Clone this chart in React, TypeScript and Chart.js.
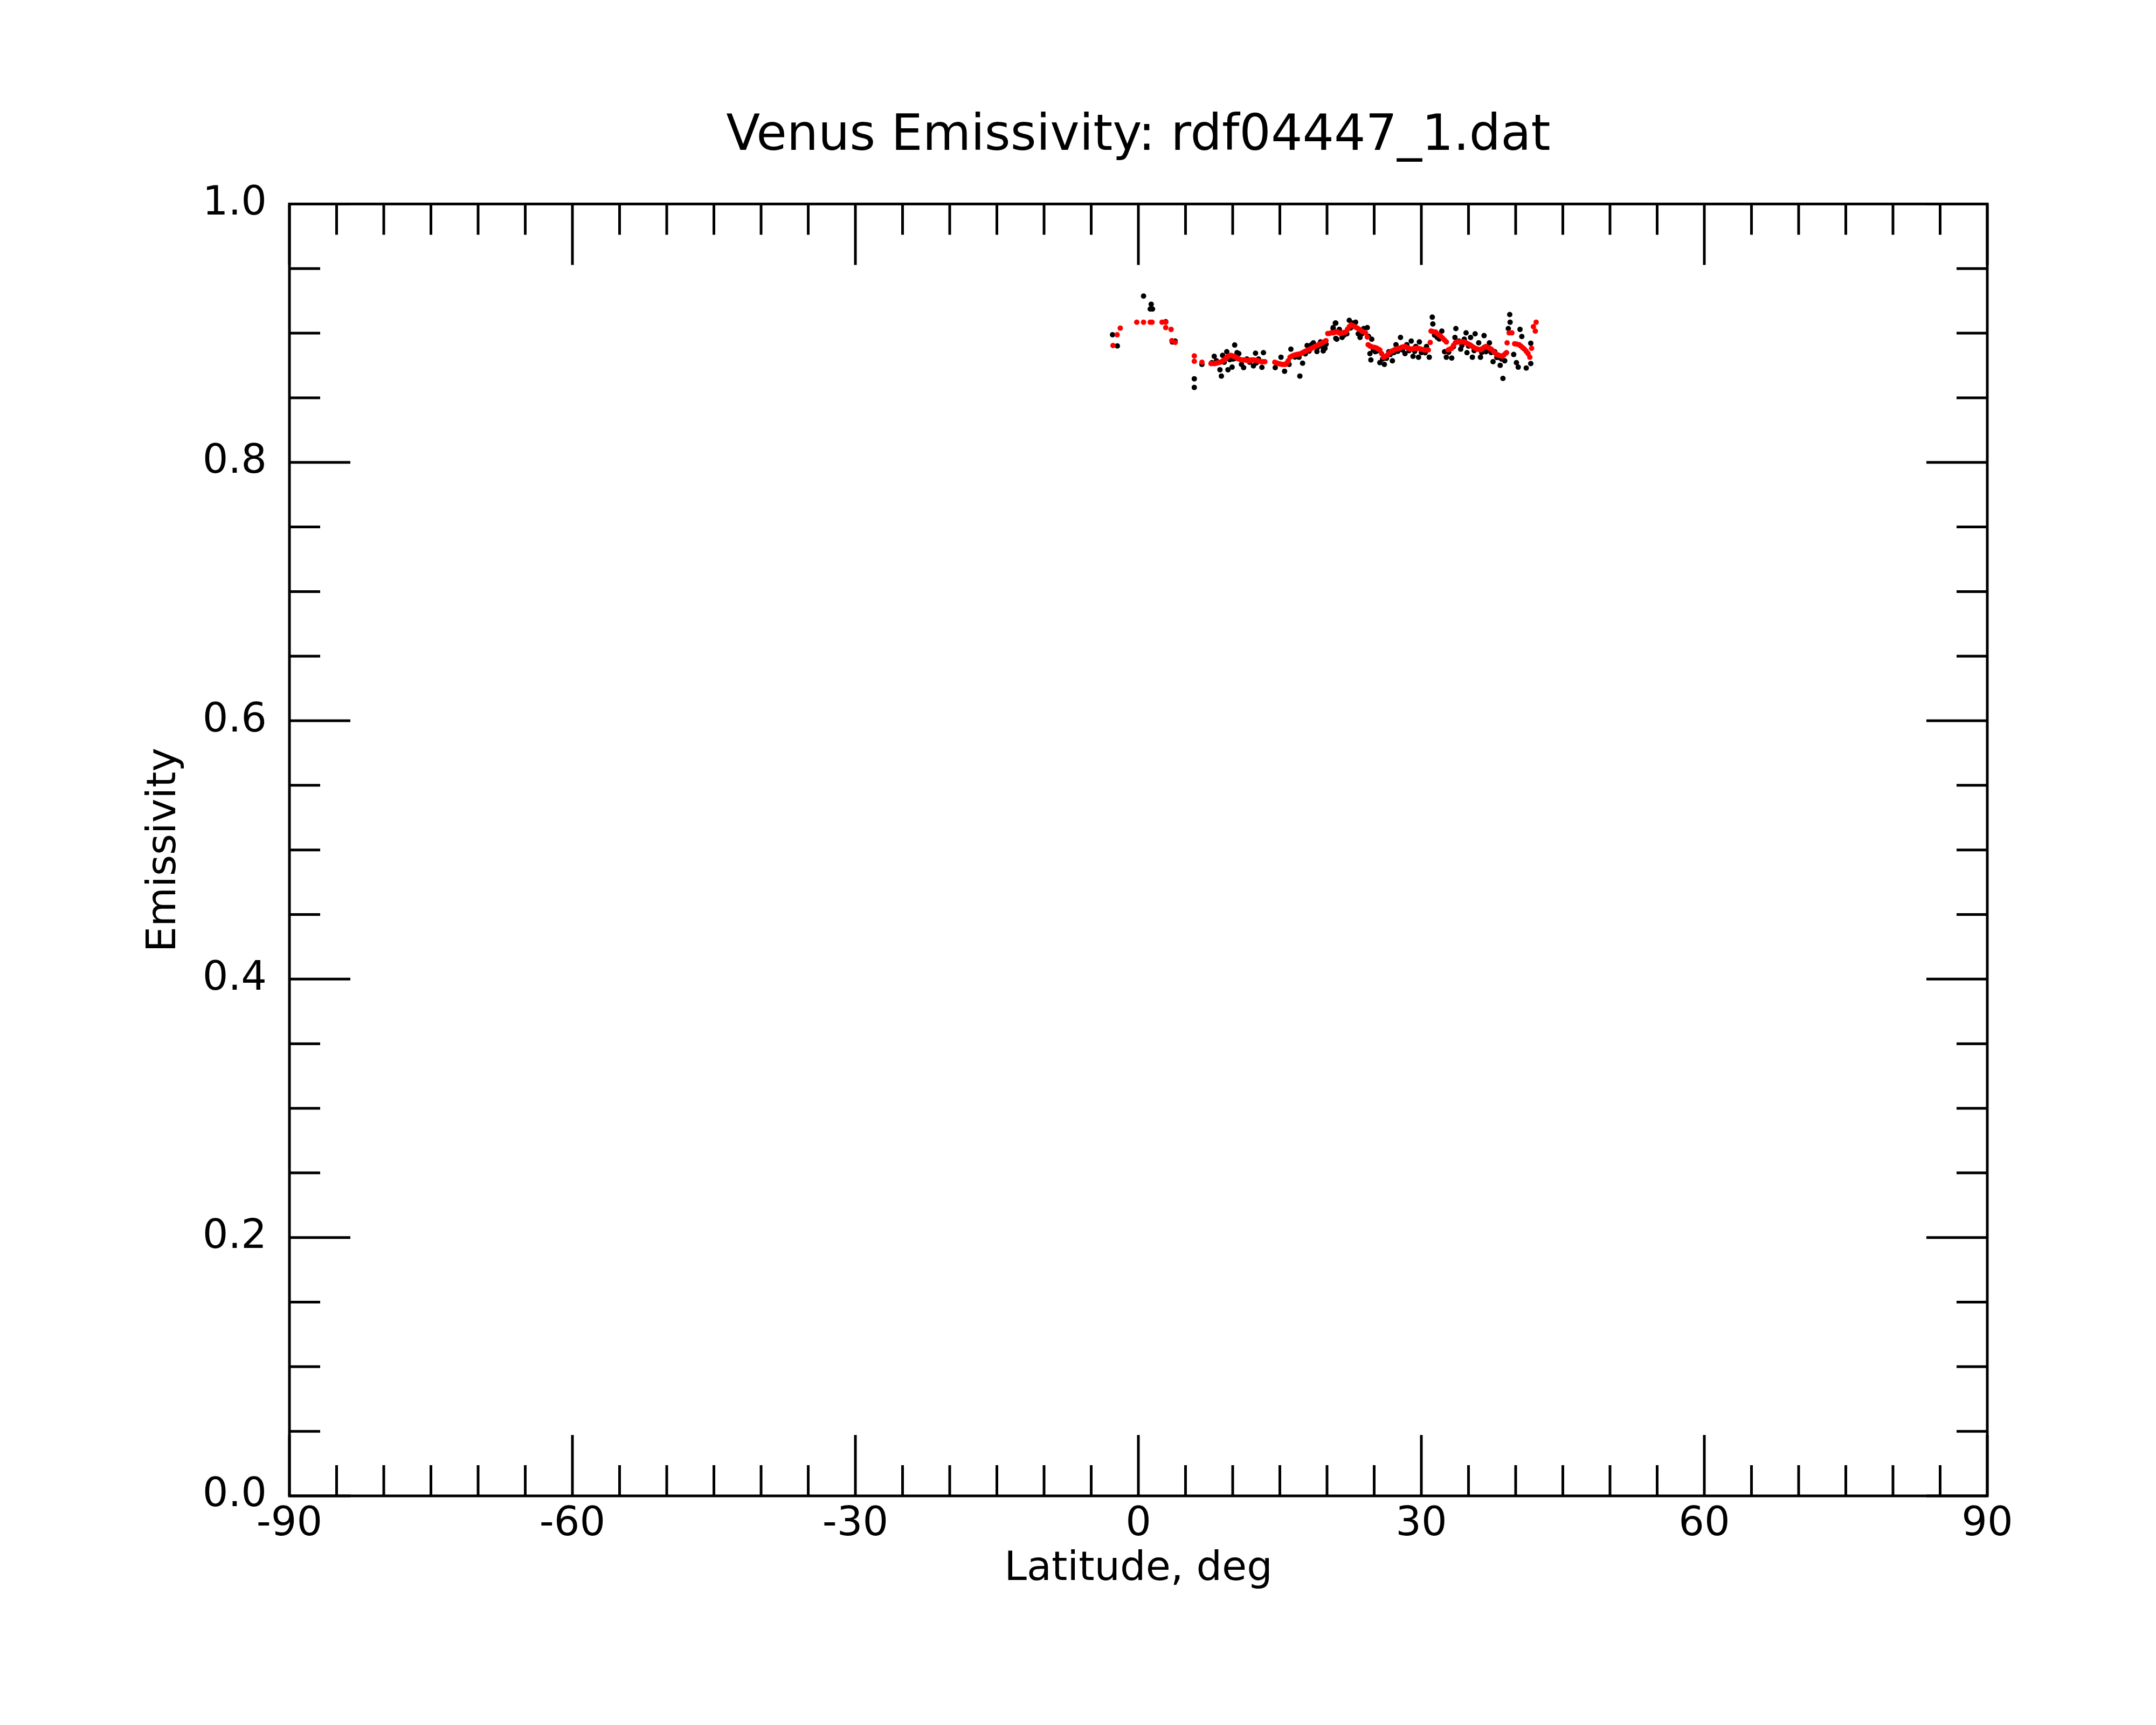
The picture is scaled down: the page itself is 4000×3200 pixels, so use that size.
import React, { useEffect, useRef } from "react";
import { Chart, registerables } from "chart.js";

Chart.register(...registerables);

const TITLE = "Venus Emissivity: rdf04447_1.dat";
const X_LABEL = "Latitude, deg";
const Y_LABEL = "Emissivity";
const FONT = "'DejaVu Sans', sans-serif";

// raw measurements (black)
const rawLat = [
  -2.74, -2.23, 0.55, 1.36, 1.26, 1.5, 2.9, 3.6, 3.9, 5.93, 5.93, 6.74, 8.04, 7.79, 8.27, 8.65, 8.8,
  8.93, 9.37, 9.5, 9.94, 10.04, 10.21, 10.46, 10.65, 10.93, 11.16, 11.5, 12.2, 12.42, 12.74, 13.1,
  13.26, 14.51, 15.12, 15.5, 15.98, 16.17, 17.03, 17.12, 17.41, 17.89, 18.36, 18.55, 18.93, 19.31,
  19.5, 19.6, 19.79, 20.65, 20.65, 20.93, 20.93, 20.88, 21.03, 21.31, 21.6, 22.36, 22.74, 23.03,
  23.31, 23.5, 23.89, 24.27, 24.55, 24.65, 24.74, 25.12, 25.6, 25.89, 26.08, 26.55, 26.93, 27.31,
  27.79, 28.27, 28.46, 28.93, 29.12, 29.41, 29.7, 29.79, 30.17, 30.55, 30.84, 31.16, 31.22, 31.69,
  32.17, 32.46, 32.65, 33.22, 33.56, 33.66, 33.98, 34.17, 34.55, 34.74, 34.84, 35.22, 35.41, 35.7,
  36.08, 36.27, 36.65, 36.84, 37.22, 37.6, 37.79, 38.17, 38.36, 38.65, 38.84, 39.22, 39.37, 39.41,
  39.79, 40.08, 40.27, 40.46, 40.65, 41.12, 41.6, 41.6,
  9.1, 9.7, 10.3, 11.8, 12.5, 16.6, 17.7, 18.1, 19.0, 19.9, 21.8, 22.1, 22.5, 23.7, 24.4, 24.9, 25.3,
  26.3, 26.7, 27.1, 27.5, 28.0, 28.7, 29.3, 30.0, 30.4, 31.4, 31.9, 32.9, 33.4, 34.3, 35.0, 35.6,
  36.4, 37.0, 37.4, 38.0, 38.5,
];
const rawEmis = [
  0.8988, 0.8901, 0.9287, 0.9224, 0.9187, 0.9187, 0.9089, 0.8932, 0.8939, 0.8647, 0.858, 0.8758,
  0.8821, 0.8772, 0.8786, 0.8717, 0.8668, 0.8828, 0.8856, 0.8717, 0.8737, 0.88, 0.8908, 0.8849,
  0.8842, 0.8758, 0.8733, 0.88, 0.8747, 0.8845, 0.88, 0.8735, 0.8849, 0.8733, 0.8814, 0.8705,
  0.8758, 0.8876, 0.8814, 0.8668, 0.8768, 0.8904, 0.8911, 0.8925, 0.8858, 0.8932, 0.8897, 0.8863,
  0.8883, 0.9043, 0.9036, 0.9078, 0.896, 0.9078, 0.8953, 0.9029, 0.8967, 0.9099, 0.9078, 0.9085,
  0.8995, 0.8967, 0.9036, 0.9043, 0.8842, 0.8793, 0.8953, 0.8856, 0.8772, 0.88, 0.8758, 0.8856,
  0.8786, 0.8911, 0.8967, 0.8842, 0.8911, 0.8939, 0.8821, 0.8897, 0.8814, 0.8932, 0.8856, 0.8897,
  0.8814, 0.9124, 0.9071, 0.8967, 0.9016, 0.8856, 0.8814, 0.8807, 0.8967, 0.9036, 0.8939, 0.8876,
  0.8953, 0.9002, 0.8849, 0.8967, 0.8814, 0.8995, 0.8925, 0.8814, 0.8981, 0.8856, 0.8925, 0.8779,
  0.8856, 0.8814, 0.8751, 0.865, 0.8786, 0.9036, 0.9144, 0.9085, 0.8835, 0.8772, 0.8737, 0.9029,
  0.8974, 0.873, 0.8922, 0.8765,
  0.8775, 0.8795, 0.8805, 0.8775, 0.8770, 0.8815, 0.8840, 0.8862, 0.8890, 0.8915, 0.8985, 0.8995,
  0.9040, 0.8995, 0.8975, 0.8870, 0.8862, 0.8805, 0.8835, 0.8850, 0.8860, 0.8870, 0.8865, 0.8860,
  0.8850, 0.8848, 0.8985, 0.8955, 0.8852, 0.8895, 0.8905, 0.8900, 0.8865, 0.8850, 0.8868, 0.8850,
  0.8812, 0.8800,
];

// smoothed values (red)
const smoothLat = [
  -2.69, -2.25, -1.92, -0.17, 0.55, 1.26, 1.45, 2.51, 2.9, 2.9, 3.47, 3.55, 3.9, 5.93, 5.93, 6.74,
  7.7, 7.9, 8.08, 8.27, 8.46, 8.65, 8.84, 9.03, 9.22, 9.36, 9.5, 9.65, 9.79, 9.94, 10.08, 10.22,
  10.36, 10.5, 10.65, 10.79, 10.93, 11.12, 11.31, 11.5, 11.7, 11.84, 11.98, 12.12, 12.27, 12.46,
  12.65, 12.84, 13.03, 13.22, 13.41, 14.46, 14.65, 14.84, 15.03, 15.22, 15.41, 15.6, 15.75, 15.89,
  16.08, 16.27, 16.46, 16.65, 16.84, 17.03, 17.22, 17.41, 17.6, 17.79, 17.98, 18.17, 18.36, 18.55,
  18.74, 18.93, 19.12, 19.31, 19.5, 19.7, 19.89, 20.08, 20.27, 20.46, 20.65, 20.84, 21.03, 21.22,
  21.41, 21.6, 21.79, 21.98, 22.17, 22.36, 22.55, 22.74, 22.93, 23.12, 23.31, 23.5, 23.7, 23.89,
  24.08, 24.27, 24.36, 24.55, 24.74, 25.03, 25.22, 25.41, 25.6, 25.79, 25.98, 26.17, 26.36, 26.55,
  26.74, 26.93, 27.12, 27.31, 27.5, 27.7, 27.89, 28.08, 28.27, 28.46, 28.65, 28.84, 29.03, 29.22,
  29.41, 29.6, 29.79, 29.98, 30.17, 30.36, 30.55, 30.74, 30.94, 31.03, 31.22, 31.5, 31.69, 31.89,
  32.08, 32.27, 32.46, 32.65, 32.84, 33.03, 33.22, 33.41, 33.6, 33.79, 33.98, 34.17, 34.36, 34.55,
  34.74, 34.93, 35.12, 35.31, 35.5, 35.7, 35.89, 36.08, 36.27, 36.46, 36.65, 36.84, 37.03, 37.22,
  37.41, 37.6, 37.79, 37.98, 38.17, 38.36, 38.55, 38.74, 38.93, 39.03, 39.09, 39.31, 39.6, 39.89,
  40.12, 40.36, 40.55, 40.74, 40.93, 41.12, 41.31, 41.5, 41.69, 41.88, 42.08, 42.17,
];
const smoothEmis = [
  0.8904, 0.8988, 0.9039, 0.9085, 0.9085, 0.9085, 0.9085, 0.9085, 0.9085, 0.9043, 0.9029, 0.8942,
  0.8928, 0.8824, 0.8782, 0.8775, 0.8765, 0.8765, 0.8765, 0.8768, 0.8772, 0.8775, 0.8779, 0.879,
  0.88, 0.8812, 0.8821, 0.8826, 0.8828, 0.8825, 0.8821, 0.8818, 0.8814, 0.8806, 0.88, 0.8796, 0.8793,
  0.8793, 0.8793, 0.879, 0.8786, 0.879, 0.8793, 0.8793, 0.8793, 0.879, 0.8786, 0.8782, 0.8779,
  0.8779, 0.8779, 0.8775, 0.877, 0.8765, 0.8761, 0.8758, 0.8758, 0.8758, 0.877, 0.8786, 0.8814,
  0.8822, 0.8828, 0.8832, 0.8835, 0.8838, 0.8842, 0.8849, 0.8856, 0.8863, 0.887, 0.8876, 0.8883,
  0.889, 0.8897, 0.8904, 0.8911, 0.8918, 0.8925, 0.8933, 0.8942, 0.8997, 0.8998, 0.9002, 0.9002,
  0.9008, 0.9012, 0.9005, 0.8997, 0.9, 0.9005, 0.9009, 0.903, 0.905, 0.9064, 0.9058, 0.905, 0.9043,
  0.9035, 0.9025, 0.9016, 0.9009, 0.9002, 0.897, 0.8911, 0.89, 0.8895, 0.889, 0.8885, 0.8878, 0.887,
  0.8842, 0.8814, 0.882, 0.8828, 0.8845, 0.8855, 0.8863, 0.887, 0.8876, 0.888, 0.8883, 0.889,
  0.8894, 0.8897, 0.889, 0.8883, 0.8876, 0.8878, 0.888, 0.8882, 0.8883, 0.888, 0.8876, 0.8872,
  0.887, 0.887, 0.887, 0.8928, 0.9016, 0.9012, 0.9009, 0.8995, 0.8985, 0.8974, 0.896, 0.8946,
  0.8932, 0.887, 0.8876, 0.8883, 0.8905, 0.8925, 0.8932, 0.8932, 0.8932, 0.8932, 0.8932, 0.8925,
  0.8918, 0.8911, 0.8902, 0.8892, 0.8883, 0.8878, 0.8874, 0.887, 0.888, 0.889, 0.8897, 0.889,
  0.8883, 0.8876, 0.8862, 0.8848, 0.8835, 0.883, 0.8825, 0.8821, 0.883, 0.8843, 0.8849, 0.8925,
  0.9002, 0.9002, 0.8918, 0.8915, 0.8911, 0.89, 0.8888, 0.8876, 0.886, 0.8842, 0.8814, 0.8883,
  0.905, 0.9016, 0.9085,
];

const X_MIN = -90;
const X_MAX = 90;
const X_MAJOR = 30;
const X_MINOR = 5;

// inward ticks on all four sides plus the box frame
const frameTicks = {
  id: "frameTicks",
  afterDraw(chart: any) {
    const { ctx, chartArea: a, scales } = chart;
    const x = scales.x;
    const y = scales.y;
    const major = 113;
    const minor = 57;
    ctx.save();
    ctx.strokeStyle = "#000";
    ctx.lineWidth = 5;
    ctx.beginPath();
    for (let v = X_MIN; v <= X_MAX; v += X_MINOR) {
      const px = x.getPixelForValue(v);
      const len = v % X_MAJOR === 0 ? major : minor;
      ctx.moveTo(px, a.bottom);
      ctx.lineTo(px, a.bottom - len);
      ctx.moveTo(px, a.top);
      ctx.lineTo(px, a.top + len);
    }
    for (let i = 0; i <= 20; i++) {
      const py = y.getPixelForValue(i * 0.05);
      const len = i % 4 === 0 ? major : minor;
      ctx.moveTo(a.left, py);
      ctx.lineTo(a.left + len, py);
      ctx.moveTo(a.right, py);
      ctx.lineTo(a.right - len, py);
    }
    ctx.stroke();
    ctx.strokeRect(a.left, a.top, a.right - a.left, a.bottom - a.top);
    ctx.restore();
  },
};

export default function App() {
  const canvasRef = useRef<HTMLCanvasElement>(null);

  useEffect(() => {
    document.body.style.margin = "0";
    if (!canvasRef.current) return;
    const ctx = canvasRef.current.getContext("2d");
    if (!ctx) return;

    const font = { family: FONT, size: 75, weight: "normal" as const, lineHeight: 1.2 };

    const chart = new Chart(ctx, {
      type: "scatter",
      data: {
        datasets: [
          {
            label: "smoothed",
            data: smoothLat.map((v, i) => ({ x: v, y: smoothEmis[i] })),
            backgroundColor: "#ff0000",
            pointRadius: 5,
            pointBorderWidth: 0,
            order: 1,
          },
          {
            label: "raw",
            data: rawLat.map((v, i) => ({ x: v, y: rawEmis[i] })),
            backgroundColor: "#000000",
            pointRadius: 5,
            pointBorderWidth: 0,
            order: 2,
          },
        ],
      },
      options: {
        animation: false,
        responsive: false,
        devicePixelRatio: 1,
        layout: { padding: { left: 258, right: 313, top: 0, bottom: 243 } },
        plugins: {
          legend: { display: false },
          tooltip: { enabled: false },
          title: {
            display: true,
            text: TITLE,
            color: "#000",
            fullSize: false,
            font: { family: FONT, size: 92, weight: "normal", lineHeight: 1.2 },
            padding: { top: 199, bottom: 69 },
          },
        },
        scales: {
          x: {
            type: "linear",
            min: X_MIN,
            max: X_MAX,
            afterFit: (s: any) => {
              s.height = 182;
            },
            grid: { display: false, drawTicks: false },
            border: { display: false },
            ticks: {
              stepSize: X_MAJOR,
              padding: 9,
              color: "#000",
              font,
              maxRotation: 0,
              autoSkip: false,
            },
            title: { display: true, text: X_LABEL, color: "#000", font, padding: 0 },
          },
          y: {
            type: "linear",
            min: 0,
            max: 1,
            afterFit: (s: any) => {
              s.width = 279;
            },
            grid: { display: false, drawTicks: false },
            border: { display: false },
            ticks: {
              stepSize: 0.2,
              padding: 42,
              color: "#000",
              font,
              callback: (v: any) => Number(v).toFixed(1),
            },
            title: { display: true, text: Y_LABEL, color: "#000", font, padding: { top: 3, bottom: 0 } },
          },
        },
      },
      plugins: [frameTicks],
    });

    return () => {
      chart.destroy();
    };
  }, []);

  return (
    <div style={{ position: "absolute", left: 0, top: 0, width: 4000, height: 3200, background: "#fff" }}>
      <canvas ref={canvasRef} width={4000} height={3200} style={{ width: 4000, height: 3200, display: "block" }} />
    </div>
  );
}
